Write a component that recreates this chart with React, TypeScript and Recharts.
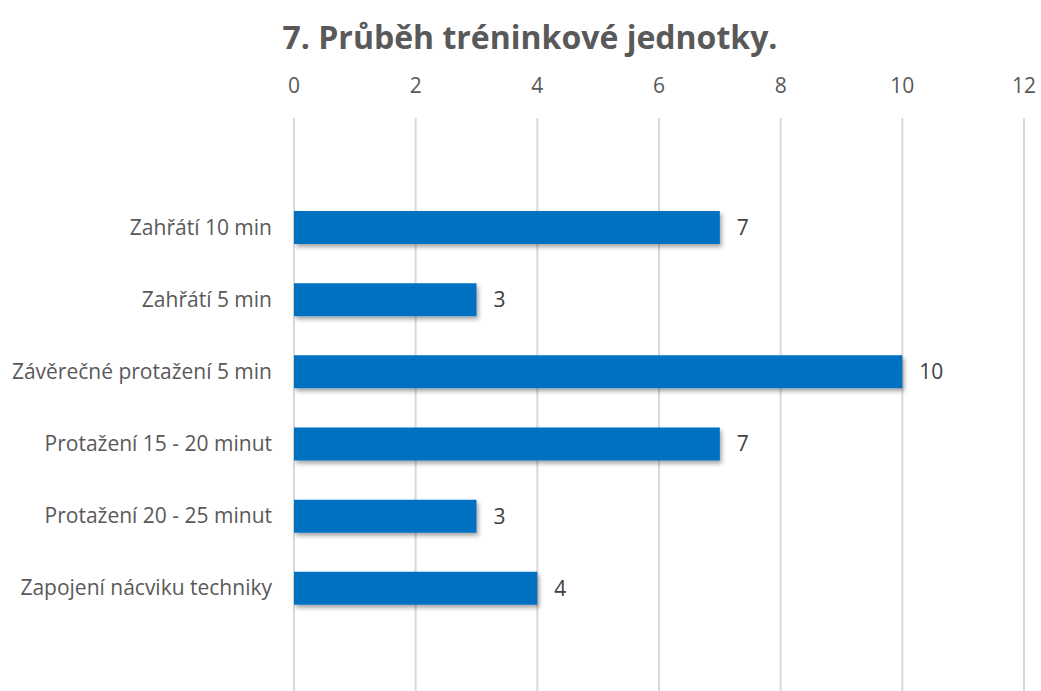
import { BarChart, Bar, XAxis, YAxis, CartesianGrid, LabelList } from 'recharts';

const categories = [
  'Zahřátí 10 min',
  'Zahřátí 5 min',
  'Závěrečné protažení 5 min',
  'Protažení 15 - 20 minut',
  'Protažení 20 - 25 minut',
  'Zapojení nácviku techniky',
];
const counts = [7, 3, 10, 7, 3, 4];
const xTicks = [0, 2, 4, 6, 8, 10, 12];

const data = categories.map((name, i) => ({ name, value: counts[i] }));

const font = '"Open Sans", "Noto Sans", sans-serif';

export default function App() {
  return (
    <div style={{ position: 'absolute', left: 0, top: 0, width: 1041, height: 691, background: '#fff', fontFamily: font }}>
      <div
        style={{
          position: 'absolute',
          left: 0,
          top: 15,
          width: 1060,
          textAlign: 'center',
          fontSize: 32,
          fontWeight: 700,
          color: '#595959',
        }}
      >
        7. Průběh tréninkové jednotky.
      </div>
      <BarChart
        width={1041}
        height={691}
        data={data}
        layout="vertical"
        margin={{ top: 58, right: 17, bottom: 0, left: 0 }}
        barCategoryGap={0}
      >
        <defs>
          <filter id="shadow" x="-5%" y="-30%" width="115%" height="180%">
            <feDropShadow dx="2" dy="3" stdDeviation="2" floodColor="#000" floodOpacity="0.35" />
          </filter>
        </defs>
        <CartesianGrid horizontal={false} stroke="#d9d9d9" strokeWidth={2} />
        <XAxis
          type="number"
          orientation="top"
          domain={[0, 12]}
          ticks={xTicks}
          axisLine={false}
          tickLine={false}
          tickMargin={19}
          tick={{ fill: '#595959', fontSize: 21, fontFamily: font }}
          height={60}
        />
        <YAxis
          type="category"
          dataKey="name"
          width={294}
          axisLine={false}
          tickLine={false}
          tickMargin={16}
          padding={{ top: 73, bottom: 67 }}
          tick={{ fill: '#595959', fontSize: 21, fontFamily: font }}
        />
        <Bar dataKey="value" fill="#0070c0" barSize={33} isAnimationActive={false} filter="url(#shadow)">
          <LabelList
            dataKey="value"
            position="right"
            offset={17}
            fill="#404040"
            fontSize={21}
            fontFamily={font}
          />
        </Bar>
      </BarChart>
    </div>
  );
}
